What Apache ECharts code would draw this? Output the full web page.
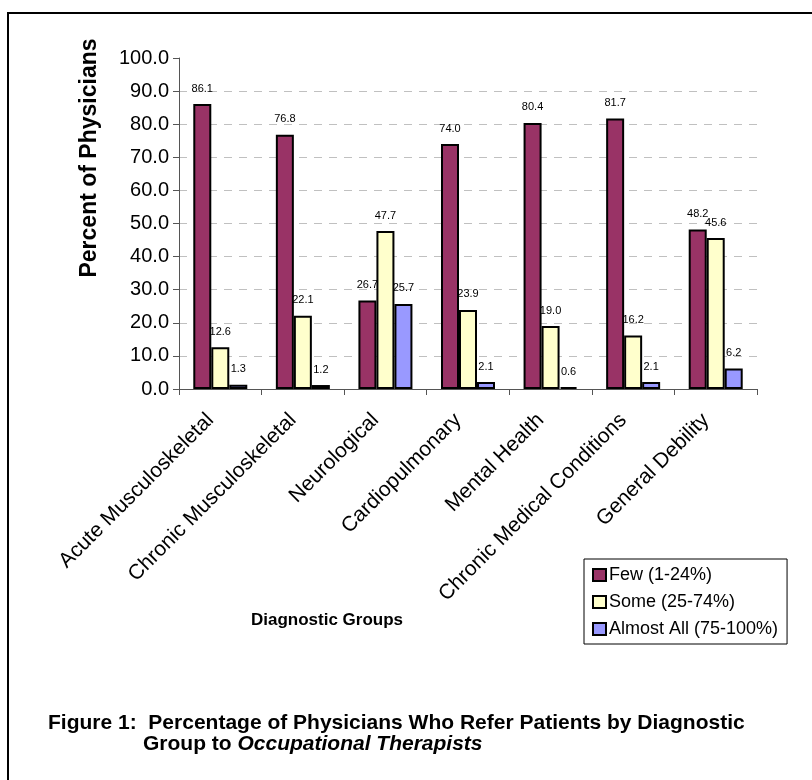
<!DOCTYPE html>
<html>
<head>
<meta charset="utf-8">
<script src="https://cdn.jsdelivr.net/npm/echarts@6/dist/echarts.min.js"></script>
<style>
  html, body { margin: 0; padding: 0; background: #fff; }
  #chart { width: 812px; height: 780px; }
</style>
</head>
<body>
<div id="chart"></div>
<script>
// Diagnostic groups along the x axis
const categories = [
  'Acute Musculoskeletal',
  'Chronic Musculoskeletal',
  'Neurological',
  'Cardiopulmonary',
  'Mental Health',
  'Chronic Medical Conditions',
  'General Debility'
];

// Percent of physicians in each referral band
const fewValues       = [86.1, 76.8, 26.7, 74.0, 80.4, 81.7, 48.2];
const someValues      = [12.6, 22.1, 47.7, 23.9, 19.0, 16.2, 45.6];
const almostAllValues = [1.3, 1.2, 25.7, 2.1, 0.6, 2.1, 6.2];

const seriesNames = ['Few (1-24%)', 'Some (25-74%)', 'Almost All (75-100%)'];

const FONT = '"Liberation Sans", Arial, sans-serif';
const colors = ['#993366', '#FFFFCC', '#9999FF'];

function barSeries(name, data, color) {
  return {
    name: name,
    type: 'bar',
    data: data,
    barWidth: 18,
    barGap: '0%',
    itemStyle: { color: color, borderColor: '#000', borderWidth: 2 },
    label: {
      show: true,
      position: 'top',
      distance: 10,
      color: '#000',
      fontFamily: FONT,
      fontSize: 11,
      formatter: p => p.value.toFixed(1)
    }
  };
}

const chart = echarts.init(document.getElementById('chart'), null, { renderer: 'canvas' });

chart.setOption({
  backgroundColor: '#fff',
  animation: false,
  grid: { left: 179, right: 55, top: 58, bottom: 391 },
  legend: {
    orient: 'vertical',
    left: 584,
    top: 559,
    data: seriesNames,
    backgroundColor: '#fff',
    borderColor: '#000',
    borderWidth: 1,
    padding: [7, 9, 6, 8],
    itemWidth: 13,
    itemHeight: 12,
    itemGap: 9,
    icon: 'rect',
    textStyle: { fontFamily: FONT, fontSize: 18, color: '#000', padding: [0, 0, 0, -2] }
  },
  xAxis: {
    type: 'category',
    data: categories,
    axisLine: { lineStyle: { color: '#555', width: 1 } },
    axisTick: { show: true, length: 6, inside: false, lineStyle: { color: '#555' } },
    axisLabel: {
      rotate: 45,
      margin: 18,
      padding: [0, 14, 0, 0],
      color: '#000',
      fontFamily: FONT,
      fontSize: 21,
      interval: 0
    }
  },
  yAxis: {
    type: 'value',
    min: 0,
    max: 100,
    interval: 10,
    axisLine: { show: true, lineStyle: { color: '#555', width: 1 } },
    axisTick: { show: true, length: 6, lineStyle: { color: '#555' } },
    axisLabel: {
      color: '#000',
      fontFamily: FONT,
      fontSize: 20,
      margin: 10,
      formatter: v => v.toFixed(1)
    },
    splitLine: {
      show: true,
      showMaxLine: false,
      lineStyle: { color: '#c0c0c0', type: [8, 7], width: 1 }
    }
  },
  series: [
    barSeries(seriesNames[0], fewValues, colors[0]),
    barSeries(seriesNames[1], someValues, colors[1]),
    barSeries(seriesNames[2], almostAllValues, colors[2])
  ],
  graphic: [
    {
      type: 'rect',
      shape: { x: 8, y: 13, width: 840, height: 800 },
      style: { fill: null, stroke: '#000', lineWidth: 2 },
      silent: true,
      z: -1
    },
    {
      type: 'text',
      x: 90,
      y: 158,
      rotation: Math.PI / 2,
      style: {
        text: 'Percent of Physicians',
        fontFamily: FONT,
        fontWeight: 'bold',
        fontSize: 23,
        fill: '#000',
        align: 'center',
        verticalAlign: 'middle'
      }
    },
    {
      type: 'text',
      x: 327,
      y: 620,
      style: {
        text: 'Diagnostic Groups',
        fontFamily: FONT,
        fontWeight: 'bold',
        fontSize: 17,
        fill: '#000',
        align: 'center',
        verticalAlign: 'middle'
      }
    },
    {
      type: 'text',
      x: 48,
      y: 723,
      style: {
        text: 'Figure 1:  Percentage of Physicians Who Refer Patients by Diagnostic',
        fontFamily: FONT,
        fontWeight: 'bold',
        fontSize: 21,
        fill: '#000',
        align: 'left',
        verticalAlign: 'middle'
      }
    },
    {
      type: 'text',
      x: 143,
      y: 744,
      style: {
        text: '{n|Group to }{i|Occupational Therapists}',
        fontFamily: FONT,
        fontWeight: 'bold',
        fontSize: 21,
        fill: '#000',
        align: 'left',
        verticalAlign: 'middle',
        rich: {
          n: { fontFamily: FONT, fontWeight: 'bold', fontSize: 21, fill: '#000' },
          i: { fontFamily: FONT, fontWeight: 'bold', fontStyle: 'italic', fontSize: 21, fill: '#000' }
        }
      }
    }
  ]
});
</script>
</body>
</html>
